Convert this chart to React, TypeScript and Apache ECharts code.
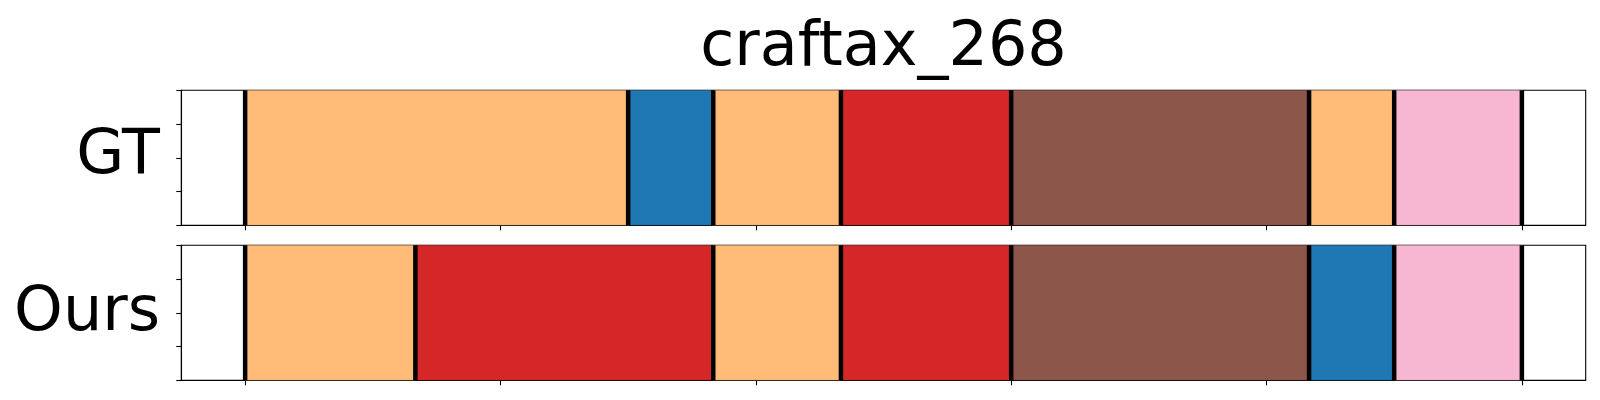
import React, { useEffect, useRef } from "react";
import * as echarts from "echarts";

const title = "craftax_268";
const rowLabels = ["GT", "Ours"];
// segment boundaries (frame indices) and class index per segment
const gtBounds = [0, 9, 11, 14, 18, 25, 27, 30];
const gtClasses = [3, 0, 3, 6, 10, 3, 13];
const oursBounds = [0, 4, 11, 14, 18, 25, 27, 30];
const oursClasses = [3, 6, 3, 6, 10, 0, 13];
const xTicks = [0, 6, 12, 18, 24, 30];

const tab20 = [
  "#1f77b4", "#aec7e8", "#ff7f0e", "#ffbb78", "#2ca02c", "#98df8a", "#d62728", "#ff9896",
  "#9467bd", "#c5b0d5", "#8c564b", "#c49c94", "#e377c2", "#f7b6d2", "#7f7f7f", "#c7c7c7",
  "#bcbd22", "#dbdb8d", "#17becf", "#9edae5",
];

const FONT = "DejaVu Sans";

function segData(bounds: number[], classes: number[]) {
  return classes.map((c, i) => [bounds[i], bounds[i + 1], c]);
}

export default function App() {
  const ref = useRef<HTMLDivElement>(null);
  useEffect(() => {
    if (!ref.current) return;
    const chart = echarts.init(ref.current, undefined, { renderer: "svg" });
    const gridTops = [90.3, 245.3];
    const gridH = 135;
    const left = 181.3;
    const width = 1404.4;

    const xAxes = gridTops.map((_, i) => ({
      type: "value",
      gridIndex: i,
      min: -1.5,
      max: 31.5,
      axisLine: { show: true, onZero: false, lineStyle: { color: "#000", width: 1.1 } },
      axisTick: {
        show: true,
        inside: false,
        length: 5,
        customValues: xTicks,
        lineStyle: { color: "#000", width: 1.1 },
      },
      axisLabel: { show: false, customValues: xTicks },
      splitLine: { show: false },
    }));
    const yAxes = gridTops.map((_, i) => ({
      type: "value",
      gridIndex: i,
      min: 0,
      max: 1,
      interval: 0.25,
      axisLine: { show: true, onZero: false, lineStyle: { color: "#000", width: 1.1 } },
      axisTick: { show: true, inside: false, length: 5, lineStyle: { color: "#000", width: 1.1 } },
      axisLabel: { show: false },
      splitLine: { show: false },
    }));

    const segSeries = (data: number[][], idx: number) => ({
      type: "custom",
      xAxisIndex: idx,
      yAxisIndex: idx,
      data,
      silent: true,
      z: 2,
      renderItem: (_p: any, api: any) => {
        const s = api.value(0);
        const e = api.value(1);
        const c = api.value(2);
        const p0 = api.coord([s, 1]);
        const p1 = api.coord([e, 0]);
        return {
          type: "rect",
          shape: { x: p0[0], y: p0[1], width: p1[0] - p0[0], height: p1[1] - p0[1] },
          style: { fill: tab20[c], stroke: "rgba(0,0,0,0.15)", lineWidth: 1 },
        };
      },
    });
    const boundSeries = (bounds: number[], idx: number) => ({
      type: "custom",
      xAxisIndex: idx,
      yAxisIndex: idx,
      data: bounds.map((b) => [b]),
      silent: true,
      z: 3,
      renderItem: (_p: any, api: any) => {
        const b = api.value(0);
        const p0 = api.coord([b, 0]);
        const p1 = api.coord([b, 1]);
        return {
          type: "line",
          shape: { x1: p0[0], y1: p0[1], x2: p1[0], y2: p1[1] },
          style: { stroke: "#000", lineWidth: 4.5 },
        };
      },
    });

    chart.setOption({
      animation: false,
      grid: gridTops.map((t) => ({
        left,
        top: t,
        width,
        height: gridH,
        show: true,
        borderColor: "#000",
        borderWidth: 1.1,
        backgroundColor: "transparent",
        containLabel: false,
      })),
      xAxis: xAxes,
      yAxis: yAxes,
      series: [
        segSeries(segData(gtBounds, gtClasses), 0),
        boundSeries(gtBounds, 0),
        segSeries(segData(oursBounds, oursClasses), 1),
        boundSeries(oursBounds, 1),
      ],
      graphic: [
        {
          type: "text",
          x: left + width / 2,
          y: 43,
          style: {
            text: title,
            font: `62px "${FONT}"`,
            fill: "#000",
            textAlign: "center",
            textVerticalAlign: "middle",
          },
        },
        ...rowLabels.map((lab, i) => ({
          type: "text",
          x: 160,
          y: i === 0 ? 151 : 308,
          style: {
            text: lab,
            font: `62px "${FONT}"`,
            fill: "#000",
            textAlign: "right",
            textVerticalAlign: "middle",
          },
        })),
      ],
    });
    return () => chart.dispose();
  }, []);
  return (
    <div
      ref={ref}
      style={{ position: "absolute", left: 0, top: 0, width: 1600, height: 400, background: "#fff" }}
    />
  );
}
